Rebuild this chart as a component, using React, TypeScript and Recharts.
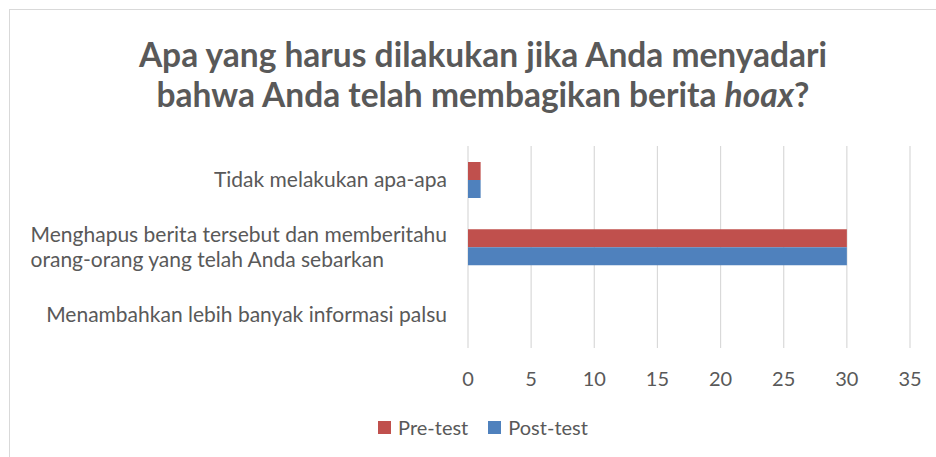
import React from 'react'
import { BarChart, Bar, XAxis, YAxis, CartesianGrid } from 'recharts'

const categories = [
  'Tidak melakukan apa-apa',
  'Menghapus berita tersebut dan memberitahu\norang-orang yang telah Anda sebarkan',
  'Menambahkan lebih banyak informasi palsu',
]
const preTest = [1, 30, 0]
const postTest = [1, 30, 0]
const xTicks = [0, 5, 10, 15, 20, 25, 30, 35]
const series = [
  { key: 'pre', name: 'Pre-test', color: '#C0504D', values: preTest },
  { key: 'post', name: 'Post-test', color: '#4F81BD', values: postTest },
]

const data = categories.map((name, i) => ({
  name,
  pre: preTest[i],
  post: postTest[i],
}))

const FONT = 'Lato, "Open Sans", sans-serif'
const TEXT = '#595959'
const LABEL_SIZE = 21

let measureCtx: CanvasRenderingContext2D | null = null
function textWidth(s: string, size: number) {
  if (!measureCtx) measureCtx = document.createElement('canvas').getContext('2d')
  if (!measureCtx) return s.length * size * 0.5
  measureCtx.font = `${size}px Lato`
  return measureCtx.measureText(s).width
}

// multi-line labels are left aligned as a block, right edge at the axis
const CategoryTick = (props: any) => {
  const { x, y, payload } = props
  const lines: string[] = String(payload.value).split('\n')
  const size = LABEL_SIZE
  const lh = 25
  if (lines.length === 1) {
    return (
      <text x={x} y={y} dy="0.35em" textAnchor="end" fill={TEXT} fontSize={size} fontFamily={FONT}>
        {lines[0]}
      </text>
    )
  }
  const w = Math.max(...lines.map((l) => textWidth(l, size)))
  const startY = y - ((lines.length - 1) * lh) / 2
  return (
    <text x={x - w} y={startY} textAnchor="start" fill={TEXT} fontSize={size} fontFamily={FONT}>
      {lines.map((l, i) => (
        <tspan key={i} x={x - w} y={startY + i * lh} dy="0.35em">
          {l}
        </tspan>
      ))}
    </text>
  )
}

export default function App() {
  return (
    <div
      style={{
        position: 'absolute',
        left: 0,
        top: 0,
        width: 936,
        height: 457,
        background: '#fff',
        overflow: 'hidden',
        fontFamily: FONT,
      }}
    >
      {/* chart frame */}
      <div
        style={{
          position: 'absolute',
          left: 9,
          top: 9,
          width: 960,
          height: 480,
          border: '1.5px solid #D9D9D9',
        }}
      />
      <div
        style={{
          position: 'absolute',
          left: 0,
          top: 34,
          width: 966,
          textAlign: 'center',
          fontSize: 33.5,
          fontWeight: 'bold',
          lineHeight: '40px',
          color: TEXT,
        }}
      >
        Apa yang harus dilakukan jika Anda menyadari
        <br />
        bahwa Anda telah membagikan berita <i>hoax</i>?
      </div>
      <div style={{ position: 'absolute', left: 0, top: 0 }}>
        <BarChart
          width={936}
          height={457}
          data={data}
          layout="vertical"
          margin={{ top: 146, right: 26, bottom: 49, left: 10 }}
          barSize={18}
          barGap={0}
        >
          <CartesianGrid horizontal={false} stroke="#D9D9D9" strokeWidth={1.2} />
          <XAxis
            type="number"
            domain={[0, 35]}
            ticks={xTicks}
            axisLine={false}
            tickLine={false}
            tickSize={0}
            tickMargin={24}
            tick={{ fill: TEXT, fontSize: 20, fontFamily: FONT }}
            height={60}
          />
          <YAxis
            type="category"
            dataKey="name"
            width={458}
            axisLine={false}
            tickLine={false}
            tickSize={0}
            tickMargin={21}
            tick={<CategoryTick />}
            interval={0}
          />
          {series.map((s) => (
            <Bar key={s.key} dataKey={s.key} name={s.name} fill={s.color} isAnimationActive={false} />
          ))}
        </BarChart>
      </div>
      {/* legend */}
      <div
        style={{
          position: 'absolute',
          left: 0,
          top: 414,
          width: 966,
          display: 'flex',
          justifyContent: 'center',
          gap: 20,
          fontSize: 20,
          color: TEXT,
          lineHeight: '26px',
        }}
      >
        {series.map((s) => (
          <div key={s.key} style={{ display: 'flex', alignItems: 'center', gap: 7 }}>
            <span style={{ width: 13, height: 13, background: s.color, display: 'inline-block' }} />
            <span>{s.name}</span>
          </div>
        ))}
      </div>
    </div>
  )
}
